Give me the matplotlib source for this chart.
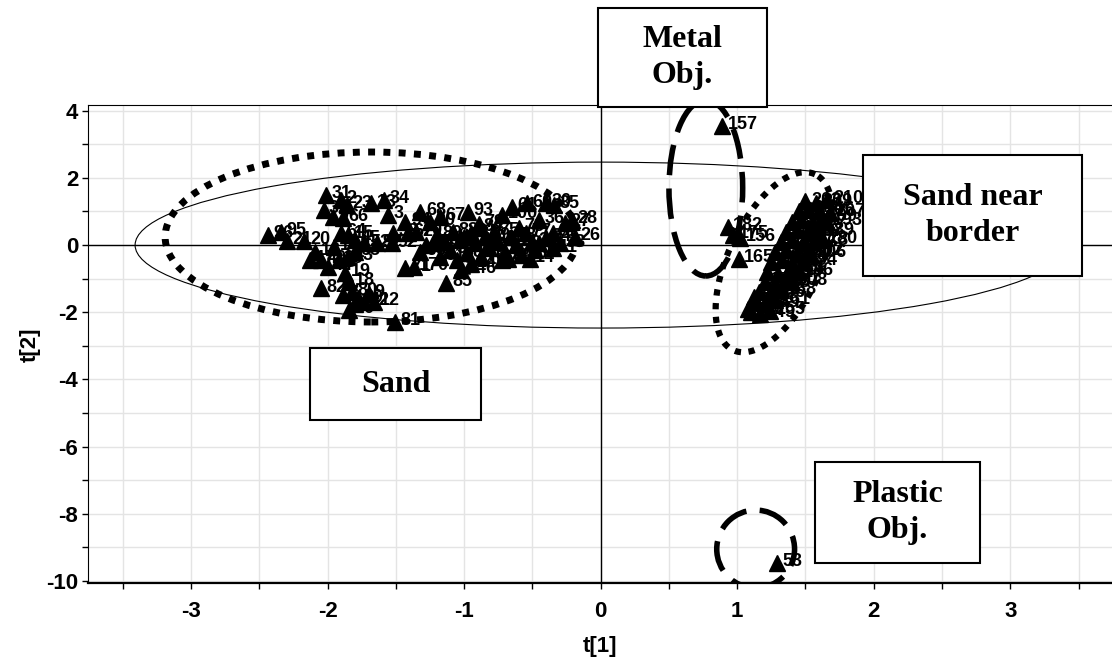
import numpy as np
import matplotlib.pyplot as plt
from matplotlib.patches import Rectangle, Ellipse

plt.rcParams["axes.unicode_minus"] = False

# score values t[1], t[2] and observation labels
sand_x = [-2.44, -2.34, -2.30, -2.17, -2.01, -2.03, -1.90, -1.86, -1.68, -1.59,
          -1.56, -1.96, -1.89, -1.90, -1.85, -1.80, -1.73, -1.64, -1.95, -2.09,
          -2.13, -2.05, -2.00, -1.92, -1.85, -1.80, -1.87, -1.84, -2.05, -1.89,
          -1.82, -1.78, -1.73, -1.84, -1.80, -1.70, -1.66, -1.51,
          -1.52, -1.41, -1.53, -1.43, -1.32, -1.25, -1.18, -0.97, -0.89, -0.72,
          -0.65, -0.54, -0.45, -0.34, -0.40, -0.21, -0.26, -0.19, -0.45, -0.35,
          -1.35, -1.32, -1.28, -1.43, -1.37, -1.13, -1.02, -0.72, -0.95,
          -1.20, -1.15, -1.10, -1.08, -1.03, -0.98, -0.95, -0.92, -0.88, -0.85,
          -0.82, -0.78, -0.75, -0.70, -0.66, -0.62, -0.58, -0.55, -0.50, -0.48,
          -0.40, -0.30, -1.18, -1.05, -0.90, -0.60, -1.22, -1.00, -0.80, -0.68,
          -0.52, -0.35]
sand_y = [0.30, 0.39, 0.12, 0.12, 1.49, 1.04, 1.34, 1.19, 1.24, 1.34,
          0.89, 0.84, 0.80, 0.35, 0.30, 0.15, 0.05, 0.05, -0.05, -0.20,
          -0.45, -0.45, -0.65, -0.45, -0.35, -0.20, -0.84, -1.09, -1.29, -1.49,
          -1.39, -1.59, -1.69, -1.93, -1.74, -1.45, -1.70, -2.28,
          0.35, 0.35, 0.05, 0.69, 0.99, 0.69, 0.84, 0.99, 0.64, 0.89,
          1.14, 1.24, 0.74, 1.19, 1.25, 0.74, 0.65, 0.25, 0.05, 0.35,
          0.40, -0.20, 0.00, -0.69, -0.65, -1.14, -0.74, -0.45, -0.55,
          0.30, 0.10, -0.15, 0.40, 0.15, -0.25, 0.35, 0.05, -0.35, 0.25,
          -0.10, 0.40, 0.10, -0.20, 0.25, 0.00, -0.30, 0.35, 0.10, -0.15,
          0.20, 0.05, -0.35, -0.45, 0.50, 0.50, 0.05, 0.25, 0.15, -0.40,
          -0.40, -0.10]
sand_lbl = ["96", "95", "21", "20", "31", "32", "2", "23", "13", "34",
            "3", "9", "66", "64", "15", "45", "52", "97", "1", "16",
            "17", "40", "44", "39", "43", "63", "19", "18", "82", "7",
            "80", "29", "42", "30", "72", "9", "12", "81",
            "33", "62", "92", "94", "68", "90", "67", "93", "79", "100",
            "61", "60", "36", "35", "30", "28", "27", "26", "25", "37",
            "70", "96", "58", "71", "170", "85", "146", "74", "148",
            "89", "59", "57", "88", "50", "86", "83", "54", "76", "99",
            "55", "75", "41", "69", "78", "48", "65", "77", "22", "51",
            "24", "38", "91", "87", "84", "73", "56", "47", "49", "46",
            "14", "11"]

border_x = [0.93, 0.97, 1.02, 1.01,
            1.10, 1.17, 1.24, 1.13, 1.20, 1.28, 1.16, 1.24, 1.32,
            1.20, 1.28, 1.36, 1.40, 1.22, 1.30, 1.38, 1.45,
            1.25, 1.33, 1.40, 1.48, 1.28, 1.36, 1.44, 1.52, 1.54,
            1.32, 1.40, 1.48, 1.56, 1.62, 1.36, 1.44, 1.52, 1.60, 1.66,
            1.40, 1.47, 1.55, 1.62, 1.45, 1.52, 1.60, 1.68,
            1.50, 1.58, 1.66, 1.08, 1.12]
border_y = [0.55, 0.30, 0.22, -0.40,
            -2.00, -2.05, -1.95, -1.70, -1.75, -1.65, -1.40, -1.45, -1.35,
            -1.10, -1.15, -1.05, -1.10, -0.80, -0.85, -0.75, -0.80,
            -0.50, -0.45, -0.55, -0.50, -0.20, -0.15, -0.25, -0.20, -0.27,
            0.10, 0.15, 0.05, 0.10, 0.15, 0.40, 0.45, 0.35, 0.40, 0.68,
            0.70, 0.75, 0.65, 0.80, 1.00, 1.05, 1.00, 0.95,
            1.30, 1.25, 1.35, -1.90, -1.55]
border_lbl = ["182", "175", "156", "165",
              "147", "149", "155", "152", "159", "161", "163", "166", "168",
              "171", "173", "177", "208", "179", "181", "184", "186",
              "188", "190", "192", "194", "196", "198", "200", "202", "206",
              "169", "172", "176", "178", "180", "183", "185", "187", "189", "193",
              "191", "195", "197", "199", "201", "204", "205", "207",
              "203", "209", "210", "150", "153"]

metal_x = [0.89]
metal_y = [3.54]
metal_lbl = ["157"]

plastic_x = [1.29]
plastic_y = [-9.46]
plastic_lbl = ["53"]

W, H = 1112, 668
fig = plt.figure(figsize=(W / 100, H / 100), dpi=100)
ax = fig.add_axes([88 / W, 1 - 583 / H, (W - 88) / W, (583 - 105) / H])
ax.set_xlim(-3.755, 3.745)
ax.set_ylim(-10.06, 4.17)

ax.set_xticks(np.arange(-3, 4, 1))
ax.set_xticks(np.arange(-3.5, 3.6, 0.5), minor=True)
ax.set_yticks(np.arange(-10, 5, 2))
ax.set_yticks(np.arange(-9, 5, 2), minor=True)
ax.grid(True, which="both", color="#e4e4e4", lw=1)
ax.set_axisbelow(True)
ax.tick_params(which="both", direction="out", length=4, width=1, colors="black")
ax.tick_params(axis="x", pad=9)
ax.tick_params(axis="y", pad=3)
for lab in ax.get_xticklabels() + ax.get_yticklabels():
    lab.set_fontfamily("Liberation Sans")
    lab.set_fontweight("bold")
    lab.set_fontsize(16)
ax.spines["right"].set_visible(False)
ax.spines["bottom"].set_linewidth(1.6)
ax.set_xlabel("t[1]", fontfamily="Liberation Sans", fontweight="bold", fontsize=16, labelpad=10)
fig.text(30 / W, 1 - 345 / H, "t[2]", rotation=90, ha="center", va="center",
         fontfamily="Liberation Sans", fontweight="bold", fontsize=16)

ax.axhline(0, color="black", lw=1, zorder=1)
ax.axvline(0, color="black", lw=1, zorder=1)

# Hotelling T2 ellipse
ax.add_patch(Ellipse((0, 0), 6.82, 4.94, fill=False, ec="black", lw=0.8, zorder=2))

all_x = sand_x + border_x + metal_x + plastic_x
all_y = sand_y + border_y + metal_y + plastic_y
all_lbl = sand_lbl + border_lbl + metal_lbl + plastic_lbl
ax.plot(all_x, all_y, "^", color="black", ms=11, zorder=4)
for x, y, s in zip(all_x, all_y, all_lbl):
    ax.annotate(s, (x, y), xytext=(4, 1), textcoords="offset points",
                fontsize=13, fontweight="bold", fontfamily="Liberation Sans",
                ha="left", va="center", zorder=5)

# group outlines
dots = (0, (1, 1.2))
dashes = (0, (5.5, 2.4))
e = Ellipse((-1.68, 0.24), 3.02, 5.06, fill=False, ec="black", lw=5, ls=dots, zorder=3)
e.set_capstyle("butt")
ax.add_patch(e)

fig.canvas.draw()
sx = ax.transData.transform((1, 0))[0] - ax.transData.transform((0, 0))[0]
sy = ax.transData.transform((0, 1))[1] - ax.transData.transform((0, 0))[1]
t = np.linspace(0, 2 * np.pi, 300)
th = np.deg2rad(65)
a, b = 97, 46
ex = 1.27 + (a * np.cos(t) * np.cos(th) - b * np.sin(t) * np.sin(th)) / sx
ey = -0.51 + (a * np.cos(t) * np.sin(th) + b * np.sin(t) * np.cos(th)) / sy
ax.plot(ex, ey, color="black", lw=4.5, ls=dots, solid_capstyle="butt",
        dash_capstyle="butt", zorder=3)

e = Ellipse((0.77, 1.70), 0.54, 5.24, fill=False, ec="black", lw=4, ls=dashes, zorder=3)
e.set_capstyle("butt")
ax.add_patch(e)
e = Ellipse((1.135, -9.05), 0.57, 2.32, angle=0, fill=False, ec="black", lw=4, ls=dashes, zorder=3)
e.set_capstyle("butt")
ax.add_patch(e)

# text boxes
boxes = [((598, 8, 767, 107), "Metal\nObj."),
         ((863, 155, 1082, 276), "Sand near\nborder"),
         ((310, 348, 481, 420), "Sand"),
         ((815, 462, 980, 563), "Plastic\nObj.")]
for (x0, y0, x1, y1), txt in boxes:
    fig.add_artist(Rectangle((x0 / W, 1 - y1 / H), (x1 - x0) / W, (y1 - y0) / H,
                             transform=fig.transFigure, fc="white", ec="black",
                             lw=1.5, zorder=10))
    fig.text((x0 + x1) / 2 / W, 1 - (y0 + y1) / 2 / H, txt, ha="center", va="center",
             fontfamily="Liberation Serif", fontweight="bold", fontsize=23,
             linespacing=1.3, zorder=11)

fig.savefig("out.png", dpi=100)
